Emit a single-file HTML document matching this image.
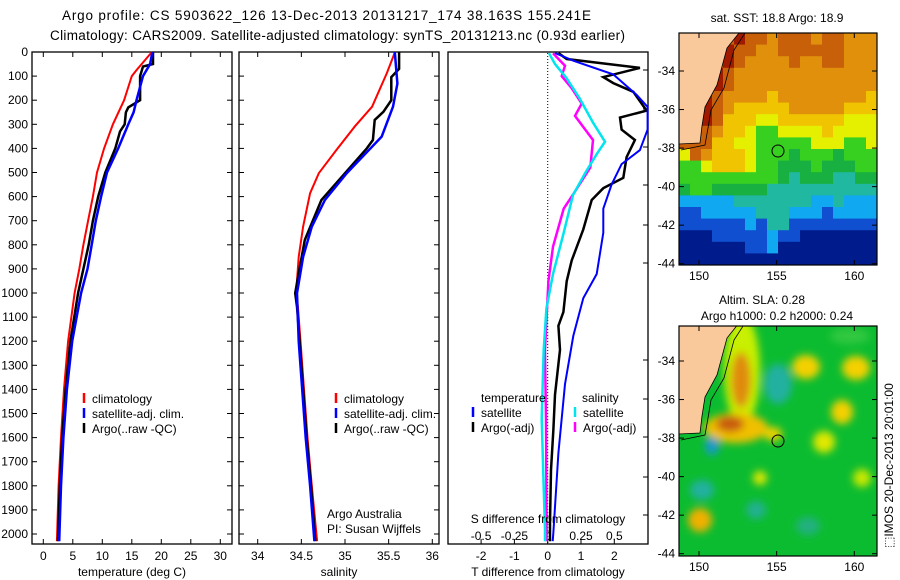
<!DOCTYPE html>
<html><head><meta charset="utf-8"><style>
body{margin:0;background:#fff;}
svg{display:block;font-family:"Liberation Sans",sans-serif;}
text{font-size:12px;fill:#000;}
</style></head><body>
<svg id="fig" width="900" height="580" viewBox="0 0 900 580" xmlns="http://www.w3.org/2000/svg">
<defs>
<filter id="blur" x="-50%" y="-50%" width="200%" height="200%"><feGaussianBlur stdDeviation="4"/></filter>
<clipPath id="clipTop"><rect x="679" y="33" width="198" height="232"/></clipPath>
<clipPath id="clipBot"><rect x="679" y="326" width="198" height="230"/></clipPath>
</defs>
<text x="62" y="20" textLength="529" style="font-size:13.5px">Argo profile: CS 5903622_126 13-Dec-2013 20131217_174 38.163S 155.241E</text>
<text x="50" y="40" textLength="575" style="font-size:13.5px">Climatology: CARS2009. Satellite-adjusted climatology: synTS_20131213.nc (0.93d earlier)</text>
<text x="777" y="22" text-anchor="middle">sat. SST: 18.8 Argo: 18.9</text>
<text x="762" y="304" text-anchor="middle">Altim. SLA: 0.28</text>
<text x="777" y="320" text-anchor="middle">Argo h1000: 0.2 h2000: 0.24</text>
<text transform="translate(893,548) rotate(-90)">⬚IMOS 20-Dec-2013 20:01:00</text>
<g id="panels"></g>
<g id="maps"></g>
</svg>
<script>
// ---------- data ----------
const tempClimDepth=[0,75,100,200,300,400,500,600,700,800,900,1000,1200,1400,1600,1800,2030];
const tempClim=[18.4,15.8,15.0,13.7,11.8,10.3,9.1,8.4,7.6,6.8,6.1,5.3,4.2,3.5,3.0,2.6,2.3];
const tempArgoDepth=[0,50,60,100,200,230,250,300,330,400,500,600,700,800,900,1000,1200,1400,1600,1800,2030];
const tempArgo=[18.6,18.6,16.9,16.4,16.4,14.4,14.0,13.8,13.0,12.2,10.5,9.3,8.4,7.7,6.8,5.9,4.6,3.8,3.2,2.8,2.5];
const tempSatDepth=[0,50,100,200,250,300,400,500,600,700,800,900,1000,1200,1400,1600,1800,2030];
const tempSat=[18.5,18.1,16.9,15.8,15.3,14.4,12.7,10.8,9.8,8.9,8.2,7.5,6.4,4.9,4.0,3.4,3.0,2.7];

const salClimDepth=[0,12,87,227,310,407,503,586,725,850,1001,1057,1200,1400,1600,1800,2030];
const salClim=[35.57,35.56,35.48,35.31,35.11,34.90,34.70,34.60,34.52,34.47,34.44,34.46,34.49,34.53,34.57,34.62,34.68];
const salArgoDepth=[0,70,104,200,248,282,365,400,503,614,780,918,1001,1057,1200,1400,1600,1800,2030];
const salArgo=[35.62,35.62,35.53,35.53,35.44,35.34,35.32,35.25,35.00,34.73,34.54,34.47,34.43,34.45,34.48,34.52,34.56,34.61,34.66];
const salSatDepth=[0,131,227,351,393,503,614,725,850,1001,1200,1400,1600,1800,2030];
const salSat=[35.57,35.60,35.55,35.42,35.31,35.02,34.77,34.62,34.52,34.45,34.47,34.51,34.55,34.60,34.65];

const dTArgoDepth=[4,29,66,104,129,165,243,272,322,365,436,522,565,614,736,865,951,1079,1136,1236,1422,1565,1735,1950,2030];
const dTArgo=[0.32,0.57,2.77,1.67,1.97,2.57,2.97,2.17,2.22,2.62,2.37,2.27,1.67,1.32,1.07,0.72,0.57,0.47,0.32,0.37,0.22,0.17,0.10,0.07,0.07];
const dTSatDepth=[4,36,93,178,228,322,407,465,550,650,750,921,1021,1178,1378,1664,1992,2030];
const dTSat=[0.22,0.77,1.97,2.67,3.0,3.0,2.77,2.22,1.92,1.67,1.67,1.47,1.07,0.77,0.52,0.32,0.17,0.15];
const dSSatDepth=[5,50,107,193,293,372,422,494,593,750,921,1065,1236,1522,1807,1979,2030];
const dSSat=[0.01,0.055,0.14,0.24,0.34,0.43,0.37,0.29,0.19,0.12,0.04,-0.01,-0.03,-0.045,-0.03,-0.02,-0.02];
const dSArgoDepth=[5,57,100,150,214,265,365,479,579,650,808,951,1236,1522,1950,2030];
const dSArgo=[0.04,0.13,0.105,0.18,0.255,0.205,0.34,0.32,0.205,0.12,0.04,0.005,-0.02,-0.013,-0.008,-0.008];

const depthTicks=[0,100,200,300,400,500,600,700,800,900,1000,1100,1200,1300,1400,1500,1600,1700,1800,1900,2000];
const tempTicks=[0,5,10,15,20,25,30];
const salTicks=[34,34.5,35,35.5,36];
const dTTicks=[-2,-1,0,1,2];
const dSTicks=[-0.5,-0.25,0,0.25,0.5];
const latTicks=[-34,-36,-38,-40,-42,-44];
const lonTicks=[150,155,160];

const sstRows=[
"BBBBBDBBOBBBOBBOOO","BBBBDBBOOBBBBBBOOO","BBBBDBOOOOBOOBBOOO","BBBDBOOOOOOOOOOOOO",
"BBBDBOOOOOOOOOOOOO","BBDBOOOOYOOOOOOOOY","BBDBOYYYYYOOOOOYYY","BBDBYYYLLYYYYYYLLL",
"BBBOYYLGGLLLLYLLLL","BBBYYLLGGGGGLLLGGL","LBOYYYLGGGgGGGgGGG","GGLYYYLGGgggGgggGG",
"GGGGGGGGGgTgggTTgg","gGGgggggTTTTTTTTTT","CCCCCTTTTTTTCCTCCC","UUCCCCCTTTCCCUCCCC",
"UUUUUUCUTTUUUUUUUU","NNNUUUUUCUUNNNNNNN","NNNNNNUUCNNNNNNNNN","NNNNNNNNNNNNNNNNNN"];

// ---------- helpers ----------
const NS="http://www.w3.org/2000/svg";
const P=document.getElementById('panels');
const M=document.getElementById('maps');
function el(tag,attrs,parent,txt){const e=document.createElementNS(NS,tag);for(const k in attrs)e.setAttribute(k,attrs[k]);if(txt!==undefined)e.textContent=txt;parent.appendChild(e);return e;}
const yD=d=>52+d*0.241;
const xT=t=>43.3+t*5.9;
const xS=s=>257.7+(s-34)*87.3;
const xDT=t=>547.7+t*33.3;
const xDS=s=>547.7+s*133.2;
function line(xs,ds,fx,col,w,name,parent){
  let d='';for(let i=0;i<xs.length;i++)d+=(i?'L':'M')+fx(xs[i]).toFixed(1)+' '+yD(ds[i]).toFixed(1);
  const p=el('path',{d:d,fill:'none',stroke:col,'stroke-width':w,'stroke-linejoin':'miter'},parent);
  
  
}
function box(x0,x1,name){
  const r=el('rect',{x:x0,y:52,width:x1-x0,height:492,fill:'#fff',stroke:'#000','stroke-width':1.3},P);
  
  
}
function dticks(x0,x1,labels){
  depthTicks.forEach(d=>{const y=yD(d);
    el('line',{x1:x0,y1:y,x2:x0+5,y2:y,stroke:'#000'},P);
    el('line',{x1:x1-5,y1:y,x2:x1,y2:y,stroke:'#000'},P);
    if(labels){const t=el('text',{x:28,y:y+4,'text-anchor':'end'},P,String(d));
      
      }
  });
}
function xticks(ticks,fx){
  ticks.forEach(v=>{const x=fx(v);
    el('line',{x1:x,y1:52,x2:x,y2:57,stroke:'#000'},P);
    el('line',{x1:x,y1:539,x2:x,y2:544,stroke:'#000'},P);
    const t=el('text',{x:x,y:560,'text-anchor':'middle'},P,String(v));
    
    
  });
}
function legend(x,y,col,txt){
  el('line',{x1:x,y1:y-10,x2:x,y2:y,stroke:col,'stroke-width':2.5},P);
  const t=el('text',{x:x+8,y:y},P,txt);
  
  
}
function label(x,y,txt,name,anchor){
  const t=el('text',{x:x,y:y,'text-anchor':anchor||'middle'},P,txt);
  
  
}

// ---------- panel 1: temperature ----------
box(32,232,'temperature-panel');
dticks(32,232,true);
xticks(tempTicks,xT);
line(tempClim,tempClimDepth,xT,'#ff0000',2,'temp-climatology-line',P);
line(tempArgo,tempArgoDepth,xT,'#000',2.5,'temp-argo-line',P);
line(tempSat,tempSatDepth,xT,'#0000ff',2.5,'temp-satellite-line',P);
label(132,576,'temperature (deg C)','temperature-axis-title');
legend(84,403,'#ff0000','climatology');
legend(84,418,'#0000ff','satellite-adj. clim.');
legend(84,433,'#000','Argo(..raw -QC)');

// ---------- panel 2: salinity ----------
box(239,439,'salinity-panel');
dticks(239,439,false);
xticks(salTicks,xS);
line(salClim,salClimDepth,xS,'#ff0000',2,'sal-climatology-line',P);
line(salArgo,salArgoDepth,xS,'#000',2.5,'sal-argo-line',P);
line(salSat,salSatDepth,xS,'#0000ff',2.5,'sal-satellite-line',P);
label(339,576,'salinity','salinity-axis-title');
legend(336,403,'#ff0000','climatology');
legend(336,418,'#0000ff','satellite-adj. clim.');
legend(336,433,'#000','Argo(..raw -QC)');
label(327,518,'Argo Australia','credit-line-1','start');
label(327,533,'PI: Susan Wijffels','credit-line-2','start');

// ---------- panel 3: differences ----------
box(448,648,'difference-panel');
dTTicks.forEach(v=>{const x=xDT(v);
  el('line',{x1:x,y1:539,x2:x,y2:544,stroke:'#000'},P);
  const t=el('text',{x:x,y:560,'text-anchor':'middle'},P,String(v));
  
  });
dSTicks.forEach(v=>{const x=xDS(v);
  const t=el('text',{x:x,y:540,'text-anchor':'middle'},P,String(v));
  
  });
[70,109,147,185,225,263,360,399,437,477,515].forEach(y=>el('line',{x1:643,y1:y,x2:648,y2:y,stroke:'#000'},P));
el('line',{x1:xDT(0),y1:53,x2:xDT(0),y2:543,stroke:'#000','stroke-dasharray':'1,2'},P);
line(dSArgo,dSArgoDepth,xDS,'#ff00ff',2.5,'s-diff-argo-line',P);
line(dSSat,dSSatDepth,xDS,'#00e5ee',2.5,'s-diff-satellite-line',P);
line(dTArgo,dTArgoDepth,xDT,'#000',2.5,'t-diff-argo-line',P);
line(dTSat,dTSatDepth,xDT,'#0000ff',2,'t-diff-satellite-line',P);
label(548,523,'S difference from climatology','s-diff-axis-title');
label(548,576,'T difference from climatology','t-diff-axis-title');
label(481,402,'temperature','legend-temperature-header','start');
legend(473,417,'#0000ff','satellite');
legend(473,432,'#000','Argo(-adj)');
label(582,402,'salinity','legend-salinity-header','start');
legend(575,417,'#00e5ee','satellite');
legend(575,432,'#ff00ff','Argo(-adj)');

// ---------- maps ----------
const COL={D:'#a01a00',B:'#c8600a',O:'#e0900a',Y:'#f0c400',L:'#e4f000',G:'#38d020',g:'#18b040',T:'#20b8a0',C:'#10a8f0',U:'#1050d0',N:'#001c8c'};
const gTop=el('g',{'clip-path':'url(#clipTop)'},M);


sstRows.forEach((row,r)=>{for(let c=0;c<row.length;c++){
  el('rect',{x:679+c*11,y:33+r*11.6,width:11.5,height:12,fill:COL[row[c]]},gTop);}});
const coast=[[679,33],[739,33],[727,48],[717,85],[705,107],[702,126],[700,143],[679,144]];
function land(g,dy){
  el('polygon',{points:coast.map(p=>p[0]+','+(p[1]+dy)).join(' '),fill:'#f9c89b',stroke:'#000','stroke-width':0.8},g);
  el('polyline',{points:[[745,33],[734,50],[724,88],[711,110],[708,128],[705,145],[681,150]].map(p=>p[0]+','+(p[1]+dy)).join(' '),fill:'none',stroke:'#000','stroke-width':0.8},g);
}
land(gTop,0);
el('circle',{cx:778,cy:151,r:6,fill:'none',stroke:'#000'},gTop);

const gBot=el('g',{'clip-path':'url(#clipBot)'},M);


el('rect',{x:679,y:326,width:198,height:230,fill:'#0cbc30'},gBot);
const gb=el('g',{filter:'url(#blur)'},gBot);
[[742,370,18,55,'#c8f000'],[741,380,10,28,'#e08a10'],[736,428,32,15,'#f0c000'],[730,424,14,8,'#c85a10'],[773,434,9,7,'#f0d000'],
 [806,367,14,12,'#f4d000'],[856,368,14,12,'#f4d000'],[842,412,11,12,'#f4d000'],[824,442,11,11,'#e0e800'],[700,520,12,12,'#f0b000'],
 [760,478,7,7,'#e0e800'],[862,478,9,9,'#c8e800'],[777,305,12,14,'#1040c0'],[778,384,14,20,'#20b0a0'],[712,446,7,9,'#1898d0'],
 [702,490,12,10,'#20b0a0'],[756,510,10,9,'#20b090'],[808,526,12,9,'#20b080'],[850,336,20,8,'#30c840']].forEach(b=>
  el('ellipse',{cx:b[0],cy:b[1],rx:b[2],ry:b[3],fill:b[4]},gb));
land(gBot,290);
el('circle',{cx:778,cy:441,r:6,fill:'none',stroke:'#000'},gBot);

function mapAxes(y0,y1,lat34,name){
  const r=el('rect',{x:679,y:y0,width:198,height:y1-y0,fill:'none',stroke:'#000','stroke-width':1.2},M);
  
  
  latTicks.forEach(v=>{const y=lat34+(-34-v)*19.27;
    el('line',{x1:679,y1:y,x2:684,y2:y,stroke:'#000'},M);
    el('line',{x1:872,y1:y,x2:877,y2:y,stroke:'#000'},M);
    const t=el('text',{x:675,y:y+4,'text-anchor':'end'},M,String(v));
    
    });
  lonTicks.forEach(v=>{const x=699+(v-150)*15.53;
    el('line',{x1:x,y1:y0,x2:x,y2:y0+5,stroke:'#000'},M);
    el('line',{x1:x,y1:y1-5,x2:x,y2:y1,stroke:'#000'},M);
    const t=el('text',{x:x,y:y1+15,'text-anchor':'middle'},M,String(v));
    
    });
}
mapAxes(33,265,71,'sst-map-frame');
mapAxes(326,556,361,'sla-map-frame');
</script>
</body></html>
